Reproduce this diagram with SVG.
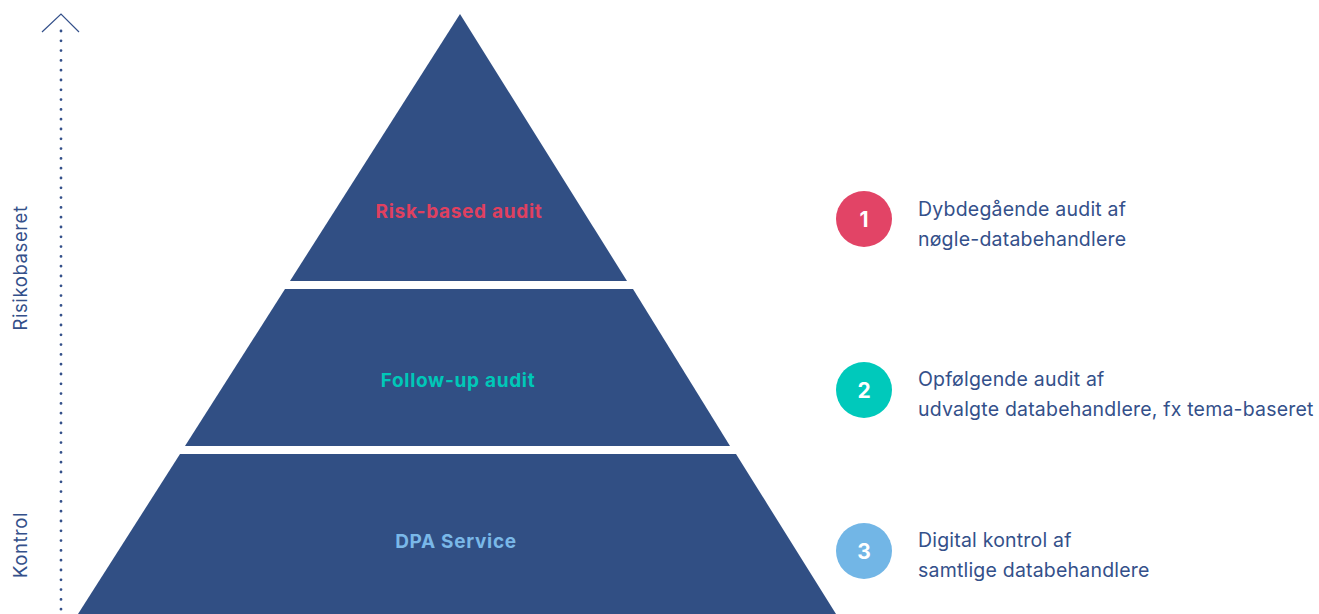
<svg xmlns="http://www.w3.org/2000/svg" width="1319" height="614" viewBox="0 0 1319 614">
<style>
.tier{fill:#314f84}
.lbl{font-family:Inter,"Open Sans",sans-serif;font-weight:700;font-size:19px;letter-spacing:0.7px;text-anchor:middle}
.num{font-family:Inter,"Open Sans",sans-serif;font-weight:700;font-size:21px;fill:#fff;text-anchor:middle}
.desc{font-family:Inter,"Open Sans",sans-serif;font-size:19.5px;letter-spacing:0.2px;fill:#34508a}
.axis{font-family:Inter,"Open Sans",sans-serif;font-size:18.5px;letter-spacing:0.6px;fill:#34508a;text-anchor:middle}
</style>
<rect width="1319" height="614" fill="#fff"/>
<g id="connectors">
<polyline points="42,32 61,14 79,32" fill="none" stroke="#34508a" stroke-width="1.2"/>
<line x1="61" y1="31" x2="61" y2="614" stroke="#34508a" stroke-width="2.8" stroke-linecap="round" stroke-dasharray="0 9.8"/>
</g>
<text class="axis" transform="translate(27,268) rotate(-90)">Risikobaseret</text>
<text class="axis" transform="translate(27,545) rotate(-90)">Kontrol</text>
<g id="tier1">
<polygon class="tier" points="460,14 627,281 290,281"/>
<text class="lbl" x="459" y="218" fill="#e0405f">Risk-based audit</text>
</g>
<g id="tier2">
<polygon class="tier" points="285,289 633,289 730,446 185,446"/>
<text class="lbl" x="458" y="387" fill="#00c8b8">Follow-up audit</text>
</g>
<g id="tier3">
<polygon class="tier" points="180,454 736,454 836,614 78,614"/>
<text class="lbl" x="456" y="548" fill="#7ab8e8">DPA Service</text>
</g>
<g id="item1">
<circle cx="864" cy="219" r="28" fill="#e24466"/>
<text class="num" x="864" y="227">1</text>
<text class="desc" x="918" y="216">Dybdegående audit af</text>
<text class="desc" x="918" y="246">nøgle-databehandlere</text>
</g>
<g id="item2">
<circle cx="864" cy="390" r="28" fill="#00c9bb"/>
<text class="num" x="864" y="398">2</text>
<text class="desc" x="918" y="386">Opfølgende audit af</text>
<text class="desc" x="918" y="416">udvalgte databehandlere, fx tema-baseret</text>
</g>
<g id="item3">
<circle cx="864" cy="551" r="28" fill="#72b6e6"/>
<text class="num" x="864" y="559">3</text>
<text class="desc" x="918" y="547">Digital kontrol af</text>
<text class="desc" x="918" y="577">samtlige databehandlere</text>
</g>
</svg>
